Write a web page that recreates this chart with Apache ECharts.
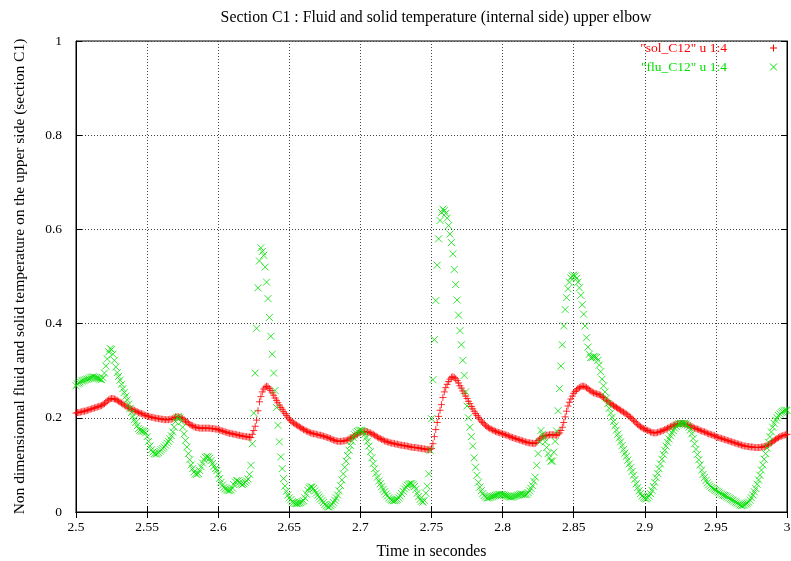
<!DOCTYPE html>
<html>
<head>
<meta charset="utf-8">
<script src="https://cdn.jsdelivr.net/npm/echarts@6/dist/echarts.min.js"></script>
<style>
html,body{margin:0;padding:0;background:#fff;}
#chart{width:791px;height:561px;}
</style>
</head>
<body>
<div id="chart"></div>
<script>
// time axis: t = T0 + i*DT
const T0 = 2.5;
const DT = 0.001;
const xTicks = [2.5, 2.55, 2.6, 2.65, 2.7, 2.75, 2.8, 2.85, 2.9, 2.95, 3];
const yTicks = [0, 0.2, 0.4, 0.6, 0.8, 1];

const solC12 = [
0.210,0.211,0.211,0.212,0.213,0.214,0.214,0.215,0.216,0.217,
0.218,0.219,0.220,0.221,0.222,0.223,0.224,0.225,0.226,0.228,
0.230,0.233,0.236,0.238,0.240,0.241,0.241,0.240,0.239,0.237,
0.235,0.233,0.231,0.229,0.227,0.225,0.223,0.221,0.220,0.218,
0.217,0.216,0.214,0.213,0.211,0.210,0.209,0.208,0.206,0.205,
0.204,0.203,0.202,0.201,0.201,0.200,0.199,0.199,0.198,0.198,
0.197,0.197,0.196,0.196,0.196,0.196,0.197,0.197,0.198,0.200,
0.201,0.202,0.202,0.201,0.200,0.198,0.196,0.193,0.191,0.189,
0.186,0.184,0.183,0.181,0.180,0.179,0.179,0.178,0.178,0.178,
0.178,0.178,0.178,0.178,0.178,0.177,0.177,0.177,0.176,0.176,
0.175,0.174,0.173,0.172,0.171,0.170,0.169,0.168,0.167,0.167,
0.166,0.165,0.165,0.164,0.163,0.163,0.162,0.161,0.161,0.160,
0.160,0.159,0.159,0.158,0.165,0.173,0.182,0.195,0.215,0.234,
0.245,0.255,0.261,0.265,0.267,0.266,0.262,0.258,0.253,0.248,
0.242,0.237,0.232,0.227,0.222,0.218,0.213,0.209,0.205,0.201,
0.197,0.194,0.191,0.189,0.187,0.185,0.183,0.181,0.179,0.177,
0.175,0.174,0.172,0.171,0.169,0.168,0.167,0.166,0.166,0.165,
0.164,0.163,0.163,0.162,0.161,0.160,0.159,0.158,0.157,0.156,
0.154,0.153,0.152,0.151,0.150,0.150,0.150,0.150,0.151,0.151,
0.152,0.153,0.155,0.156,0.158,0.160,0.162,0.164,0.166,0.168,
0.169,0.170,0.171,0.171,0.171,0.170,0.169,0.168,0.166,0.165,
0.163,0.161,0.159,0.157,0.156,0.154,0.153,0.151,0.150,0.149,
0.148,0.147,0.146,0.146,0.145,0.144,0.144,0.143,0.142,0.142,
0.141,0.141,0.140,0.140,0.139,0.138,0.138,0.137,0.137,0.137,
0.136,0.136,0.135,0.135,0.134,0.134,0.133,0.133,0.132,0.133,
0.135,0.145,0.160,0.175,0.190,0.203,0.216,0.228,0.243,0.255,
0.264,0.271,0.277,0.282,0.286,0.287,0.286,0.283,0.279,0.274,
0.268,0.263,0.257,0.252,0.246,0.241,0.235,0.230,0.224,0.219,
0.214,0.209,0.205,0.201,0.197,0.193,0.190,0.187,0.184,0.181,
0.179,0.177,0.176,0.174,0.173,0.171,0.170,0.169,0.168,0.167,
0.166,0.165,0.164,0.163,0.162,0.160,0.159,0.158,0.157,0.156,
0.155,0.154,0.153,0.152,0.151,0.150,0.149,0.148,0.147,0.147,
0.146,0.146,0.145,0.146,0.148,0.152,0.155,0.157,0.160,0.161,
0.162,0.163,0.163,0.164,0.164,0.164,0.164,0.163,0.163,0.165,
0.168,0.173,0.180,0.190,0.202,0.214,0.225,0.233,0.240,0.246,
0.252,0.256,0.259,0.262,0.264,0.266,0.267,0.267,0.266,0.264,
0.262,0.259,0.257,0.255,0.253,0.252,0.251,0.250,0.249,0.248,
0.245,0.243,0.240,0.237,0.235,0.232,0.230,0.228,0.226,0.224,
0.222,0.220,0.218,0.216,0.214,0.212,0.210,0.208,0.206,0.203,
0.201,0.198,0.195,0.192,0.189,0.186,0.183,0.181,0.179,0.177,
0.176,0.174,0.173,0.172,0.170,0.169,0.168,0.168,0.168,0.169,
0.170,0.171,0.172,0.173,0.175,0.176,0.178,0.179,0.181,0.182,
0.184,0.185,0.186,0.187,0.188,0.188,0.188,0.188,0.187,0.186,
0.185,0.184,0.183,0.181,0.180,0.178,0.177,0.176,0.175,0.173,
0.172,0.171,0.170,0.169,0.167,0.166,0.165,0.164,0.163,0.162,
0.160,0.159,0.158,0.157,0.156,0.155,0.154,0.153,0.152,0.151,
0.150,0.149,0.148,0.147,0.146,0.145,0.144,0.143,0.142,0.141,
0.140,0.140,0.139,0.139,0.138,0.138,0.138,0.137,0.137,0.137,
0.137,0.137,0.138,0.138,0.139,0.140,0.141,0.143,0.145,0.147,
0.150,0.152,0.154,0.156,0.158,0.160,0.161,0.162,0.163,0.164,
0.165
];

const fluC12 = [
0.268,0.272,0.274,0.276,0.278,0.279,0.280,0.281,0.282,0.283,
0.285,0.286,0.287,0.286,0.285,0.284,0.283,0.282,0.281,0.285,
0.295,0.310,0.325,0.340,0.347,0.345,0.335,0.322,0.308,0.296,
0.288,0.280,0.271,0.262,0.254,0.246,0.238,0.229,0.220,0.211,
0.203,0.196,0.190,0.183,0.177,0.174,0.172,0.172,0.171,0.168,
0.160,0.150,0.140,0.132,0.127,0.124,0.123,0.124,0.126,0.129,
0.132,0.135,0.138,0.142,0.146,0.150,0.155,0.162,0.170,0.180,
0.192,0.200,0.203,0.200,0.192,0.180,0.166,0.152,0.138,0.124,
0.111,0.100,0.092,0.085,0.081,0.080,0.082,0.088,0.096,0.104,
0.111,0.116,0.118,0.117,0.114,0.109,0.103,0.097,0.092,0.088,
0.080,0.071,0.063,0.057,0.052,0.049,0.047,0.046,0.046,0.047,
0.051,0.058,0.064,0.067,0.066,0.063,0.060,0.058,0.060,0.063,
0.066,0.070,0.080,0.099,0.145,0.210,0.295,0.390,0.476,0.533,
0.561,0.553,0.545,0.520,0.488,0.453,0.413,0.373,0.335,0.295,
0.258,0.222,0.184,0.149,0.117,0.092,0.071,0.055,0.044,0.036,
0.030,0.026,0.022,0.020,0.018,0.018,0.018,0.019,0.020,0.022,
0.024,0.030,0.038,0.046,0.051,0.053,0.053,0.050,0.045,0.040,
0.036,0.032,0.028,0.024,0.020,0.016,0.013,0.011,0.011,0.013,
0.016,0.020,0.025,0.030,0.036,0.045,0.056,0.068,0.081,0.095,
0.108,0.120,0.131,0.141,0.150,0.158,0.164,0.168,0.171,0.173,
0.174,0.173,0.170,0.165,0.158,0.150,0.140,0.128,0.115,0.103,
0.092,0.082,0.074,0.066,0.060,0.054,0.048,0.043,0.038,0.034,
0.030,0.027,0.025,0.024,0.024,0.025,0.027,0.030,0.034,0.039,
0.044,0.049,0.053,0.057,0.059,0.060,0.060,0.058,0.054,0.048,
0.040,0.033,0.027,0.023,0.021,0.025,0.040,0.055,0.081,0.131,
0.198,0.281,0.366,0.449,0.524,0.580,0.619,0.636,0.643,0.640,
0.634,0.624,0.608,0.590,0.572,0.548,0.515,0.483,0.450,0.418,
0.385,0.355,0.322,0.290,0.255,0.225,0.200,0.180,0.160,0.140,
0.115,0.095,0.078,0.063,0.053,0.045,0.039,0.035,0.032,0.030,
0.030,0.031,0.032,0.033,0.034,0.035,0.036,0.037,0.037,0.037,
0.037,0.036,0.035,0.034,0.033,0.032,0.032,0.032,0.033,0.034,
0.035,0.036,0.037,0.038,0.038,0.037,0.037,0.038,0.041,0.045,
0.050,0.056,0.065,0.074,0.099,0.124,0.149,0.173,0.165,0.158,
0.149,0.137,0.124,0.115,0.108,0.108,0.127,0.150,0.172,0.215,
0.262,0.310,0.355,0.395,0.430,0.455,0.474,0.488,0.497,0.501,
0.503,0.501,0.496,0.488,0.476,0.460,0.440,0.420,0.395,0.370,
0.350,0.335,0.328,0.328,0.330,0.330,0.328,0.322,0.312,0.298,
0.282,0.268,0.255,0.242,0.230,0.220,0.210,0.201,0.192,0.183,
0.174,0.165,0.157,0.149,0.141,0.133,0.125,0.118,0.110,0.102,
0.094,0.086,0.078,0.069,0.060,0.052,0.045,0.039,0.034,0.031,
0.029,0.028,0.030,0.034,0.039,0.046,0.054,0.063,0.073,0.082,
0.092,0.102,0.112,0.122,0.131,0.140,0.148,0.155,0.162,0.168,
0.173,0.178,0.182,0.185,0.187,0.188,0.188,0.188,0.188,0.187,
0.184,0.180,0.174,0.166,0.156,0.145,0.133,0.122,0.111,0.100,
0.089,0.080,0.073,0.067,0.062,0.058,0.055,0.052,0.050,0.048,
0.046,0.044,0.042,0.040,0.038,0.036,0.035,0.034,0.032,0.030,
0.028,0.026,0.025,0.023,0.021,0.019,0.017,0.015,0.014,0.014,
0.015,0.017,0.019,0.021,0.025,0.030,0.036,0.043,0.050,0.059,
0.068,0.078,0.089,0.100,0.112,0.124,0.136,0.148,0.160,0.170,
0.180,0.188,0.195,0.200,0.205,0.208,0.211,0.213,0.215,0.216,
0.216
];

function pairs(vals) {
  return vals.map((v, i) => [Math.round((T0 + i * DT) * 1000) / 1000, v]);
}
function fmt(v) { return String(Math.round(v * 100) / 100); }

const FONT = 'Liberation Serif';
const RED = '#ff0000';
const GREEN = '#00e000';
const PLUS = 'path://M0,5L10,5M5,0L5,10';
const CROSS = 'path://M0,0L10,10M0,10L10,0';

const chart = echarts.init(document.getElementById('chart'), null, {renderer: 'canvas'});
const xStep = xTicks[1] - xTicks[0];
const yStep = yTicks[1] - yTicks[0];

const gridLine = {show: true, lineStyle: {color: '#444', type: [1, 2], width: 1}};

chart.setOption({
  animation: false,
  backgroundColor: '#fff',
  title: {
    text: 'Section C1 : Fluid and solid temperature (internal side) upper elbow',
    left: 431, top: 5, textAlign: 'center',
    textStyle: {fontFamily: FONT, fontSize: 15.8, fontWeight: 'normal', color: '#000'}
  },
  grid: {left: 76, right: 4, top: 41, bottom: 49, containLabel: false, outerBoundsMode: 'none',
         show: true, borderColor: '#000', borderWidth: 1, backgroundColor: 'transparent'},
  xAxis: [{
    type: 'value', min: xTicks[0], max: xTicks[xTicks.length - 1], interval: xStep,
    name: 'Time in secondes', nameLocation: 'middle', nameGap: 32,
    nameTextStyle: {fontFamily: FONT, fontSize: 15.8, color: '#000'},
    axisLine: {show: true, lineStyle: {color: '#000', width: 1}},
    axisTick: {show: true, inside: true, length: 6, lineStyle: {color: '#000'}},
    axisLabel: {fontFamily: FONT, fontSize: 13.5, color: '#000', margin: 8, formatter: fmt, showMinLabel: true, showMaxLabel: true},
    splitLine: gridLine
  }, {
    type: 'value', position: 'top', min: xTicks[0], max: xTicks[xTicks.length - 1], interval: xStep,
    axisLine: {show: true, lineStyle: {color: '#000', width: 1}},
    axisTick: {show: true, inside: true, length: 6, lineStyle: {color: '#000'}},
    axisLabel: {show: false}, splitLine: {show: false}
  }],
  yAxis: [{
    type: 'value', min: yTicks[0], max: yTicks[yTicks.length - 1], interval: yStep,
    name: 'Non dimensionnal fluid and solid temperature on the upper side (section C1)',
    nameLocation: 'middle', nameGap: 48, nameRotate: 90,
    nameTextStyle: {fontFamily: FONT, fontSize: 15.5, color: '#000'},
    axisLine: {show: true, lineStyle: {color: '#000', width: 1}},
    axisTick: {show: true, inside: true, length: 6, lineStyle: {color: '#000'}},
    axisLabel: {fontFamily: FONT, fontSize: 13.5, color: '#000', margin: 14, formatter: fmt},
    splitLine: gridLine
  }, {
    type: 'value', position: 'right', min: yTicks[0], max: yTicks[yTicks.length - 1], interval: yStep,
    axisLine: {show: true, lineStyle: {color: '#000', width: 1}},
    axisTick: {show: true, inside: true, length: 6, lineStyle: {color: '#000'}},
    axisLabel: {show: false}, splitLine: {show: false}
  }],
  series: [{
    name: '"sol_C12" u 1:4', type: 'scatter', data: pairs(solC12),
    symbol: PLUS, symbolSize: 7,
    itemStyle: {color: 'transparent', borderColor: RED, borderWidth: 1},
    emphasis: {disabled: true}
  }, {
    name: '"flu_C12" u 1:4', type: 'scatter', data: pairs(fluC12),
    symbol: CROSS, symbolSize: 7,
    itemStyle: {color: 'transparent', borderColor: GREEN, borderWidth: 1},
    emphasis: {disabled: true}
  }],
  graphic: [
    {type: 'text', style: {text: '"sol_C12" u 1:4', x: 727, y: 48, textAlign: 'right', textVerticalAlign: 'middle', fill: RED, font: '13.5px "Liberation Serif"'}},
    {type: 'text', style: {text: '"flu_C12" u 1:4', x: 727, y: 67, textAlign: 'right', textVerticalAlign: 'middle', fill: GREEN, font: '13.5px "Liberation Serif"'}},
    {type: 'line', shape: {x1: 770, y1: 48, x2: 777, y2: 48}, style: {stroke: RED, lineWidth: 1}},
    {type: 'line', shape: {x1: 773.5, y1: 44.5, x2: 773.5, y2: 51.5}, style: {stroke: RED, lineWidth: 1}},
    {type: 'line', shape: {x1: 770, y1: 63.5, x2: 777, y2: 70.5}, style: {stroke: GREEN, lineWidth: 1}},
    {type: 'line', shape: {x1: 770, y1: 70.5, x2: 777, y2: 63.5}, style: {stroke: GREEN, lineWidth: 1}}
  ]
});
</script>
</body>
</html>
